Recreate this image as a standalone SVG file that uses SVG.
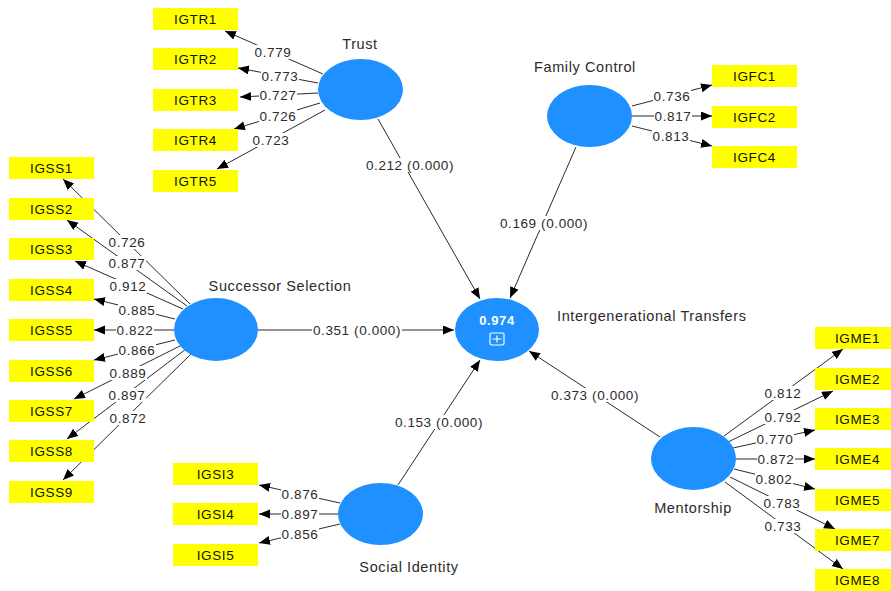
<svg xmlns="http://www.w3.org/2000/svg" width="891" height="591" viewBox="0 0 891 591">
<style>
text{font-family:"Liberation Sans",Arial,sans-serif;font-size:13.5px;letter-spacing:0.6px;fill:#2b2b2b}
.c{fill:#1E90FF}
.b{fill:#FFFF00}
.bt{text-anchor:middle;fill:#111}
.nl{text-anchor:middle;font-size:14.5px}
.nls{font-size:14.5px}
.e{stroke:#2b2b2b;stroke-width:1;fill:none;marker-end:url(#ah)}
.lb{fill:#fff}
.lt{text-anchor:middle}
.r2{fill:#fff;font-weight:bold;text-anchor:middle;font-size:13px}
</style>
<defs>
<marker id="ah" markerUnits="userSpaceOnUse" markerWidth="12" markerHeight="10" refX="11" refY="4.5" orient="auto">
<path d="M0,0 L11,4.5 L0,9 Z" fill="#000"/>
</marker>
</defs>
<rect width="891" height="591" fill="#fff"/>

<g id="connectors">
<!-- Trust indicators -->
<line class="e" x1="323" y1="74" x2="225" y2="31"/>
<line class="e" x1="318" y1="83" x2="238" y2="68"/>
<line class="e" x1="318" y1="93" x2="240" y2="97"/>
<line class="e" x1="320" y1="103" x2="234" y2="129"/>
<line class="e" x1="325" y1="110" x2="217" y2="169"/>
<!-- Family Control indicators -->
<line class="e" x1="632" y1="106" x2="712" y2="85"/>
<line class="e" x1="632" y1="116" x2="712" y2="116"/>
<line class="e" x1="632" y1="126" x2="712" y2="146"/>
<!-- Successor Selection indicators -->
<line class="e" x1="190" y1="304" x2="63" y2="179"/>
<line class="e" x1="187" y1="306" x2="67" y2="220"/>
<line class="e" x1="183" y1="309" x2="75" y2="261"/>
<line class="e" x1="175" y1="319" x2="94" y2="299"/>
<line class="e" x1="174" y1="330" x2="94" y2="330"/>
<line class="e" x1="175" y1="340" x2="94" y2="360"/>
<line class="e" x1="182" y1="345" x2="74" y2="399"/>
<line class="e" x1="186" y1="349" x2="67" y2="439"/>
<line class="e" x1="191" y1="354" x2="63" y2="480"/>
<!-- Social Identity indicators -->
<line class="e" x1="340" y1="503" x2="259" y2="485"/>
<line class="e" x1="340" y1="514" x2="259" y2="514"/>
<line class="e" x1="340" y1="524" x2="259" y2="543"/>
<!-- Mentorship indicators -->
<line class="e" x1="724" y1="436" x2="843" y2="349"/>
<line class="e" x1="728" y1="442" x2="833" y2="391"/>
<line class="e" x1="733" y1="448" x2="815" y2="430"/>
<line class="e" x1="735" y1="459" x2="815" y2="459"/>
<line class="e" x1="734" y1="469" x2="815" y2="489"/>
<line class="e" x1="730" y1="477" x2="835" y2="529"/>
<line class="e" x1="725" y1="482" x2="843" y2="569"/>
<!-- Structural paths -->
<line class="e" x1="378" y1="119" x2="480" y2="299"/>
<line class="e" x1="576" y1="147" x2="510" y2="298"/>
<line class="e" x1="258" y1="330" x2="454" y2="330"/>
<line class="e" x1="398" y1="485" x2="480" y2="360"/>
<line class="e" x1="660" y1="437" x2="529" y2="351"/>

<!-- labels -->
<g>
<rect class="lb" x="254" y="45" width="38" height="14"/><text class="lt" x="273" y="57">0.779</text>
<rect class="lb" x="261" y="69" width="38" height="14"/><text class="lt" x="280" y="81">0.773</text>
<rect class="lb" x="259" y="88" width="38" height="14"/><text class="lt" x="278" y="100">0.727</text>
<rect class="lb" x="259" y="109" width="38" height="14"/><text class="lt" x="278" y="121">0.726</text>
<rect class="lb" x="252" y="133" width="38" height="14"/><text class="lt" x="271" y="145">0.723</text>

<rect class="lb" x="653" y="89" width="38" height="14"/><text class="lt" x="672" y="101">0.736</text>
<rect class="lb" x="654" y="109" width="38" height="14"/><text class="lt" x="673" y="121">0.817</text>
<rect class="lb" x="652" y="129" width="38" height="14"/><text class="lt" x="671" y="141">0.813</text>

<rect class="lb" x="108" y="235" width="38" height="14"/><text class="lt" x="127" y="247">0.726</text>
<rect class="lb" x="108" y="256" width="38" height="14"/><text class="lt" x="127" y="268">0.877</text>
<rect class="lb" x="109" y="279" width="38" height="14"/><text class="lt" x="128" y="291">0.912</text>
<rect class="lb" x="118" y="303" width="38" height="14"/><text class="lt" x="137" y="315">0.885</text>
<rect class="lb" x="116" y="323" width="38" height="14"/><text class="lt" x="135" y="335">0.822</text>
<rect class="lb" x="118" y="343" width="38" height="14"/><text class="lt" x="137" y="355">0.866</text>
<rect class="lb" x="109" y="366" width="38" height="14"/><text class="lt" x="128" y="378">0.889</text>
<rect class="lb" x="108" y="388" width="38" height="14"/><text class="lt" x="127" y="400">0.897</text>
<rect class="lb" x="109" y="411" width="38" height="14"/><text class="lt" x="128" y="423">0.872</text>

<rect class="lb" x="281" y="487" width="38" height="14"/><text class="lt" x="300" y="499">0.876</text>
<rect class="lb" x="281" y="507" width="38" height="14"/><text class="lt" x="300" y="519">0.897</text>
<rect class="lb" x="281" y="527" width="38" height="14"/><text class="lt" x="300" y="539">0.856</text>

<rect class="lb" x="764" y="386" width="38" height="14"/><text class="lt" x="783" y="398">0.812</text>
<rect class="lb" x="764" y="410" width="38" height="14"/><text class="lt" x="783" y="422">0.792</text>
<rect class="lb" x="756" y="432" width="38" height="14"/><text class="lt" x="775" y="444">0.770</text>
<rect class="lb" x="757" y="452" width="38" height="14"/><text class="lt" x="776" y="464">0.872</text>
<rect class="lb" x="755" y="472" width="38" height="14"/><text class="lt" x="774" y="484">0.802</text>
<rect class="lb" x="763" y="496" width="38" height="14"/><text class="lt" x="782" y="508">0.783</text>
<rect class="lb" x="764" y="519" width="38" height="14"/><text class="lt" x="783" y="531">0.733</text>

<rect class="lb" x="365" y="158" width="90" height="14"/><text class="lt" x="410" y="170">0.212 (0.000)</text>
<rect class="lb" x="499" y="216" width="90" height="14"/><text class="lt" x="544" y="228">0.169 (0.000)</text>
<rect class="lb" x="312" y="323" width="90" height="14"/><text class="lt" x="357" y="335">0.351 (0.000)</text>
<rect class="lb" x="394" y="415" width="90" height="14"/><text class="lt" x="439" y="427">0.153 (0.000)</text>
<rect class="lb" x="550" y="388" width="90" height="14"/><text class="lt" x="595" y="400">0.373 (0.000)</text>
</g>
</g>

<g id="trust"><ellipse class="c" cx="360.5" cy="89.5" rx="42.5" ry="30.5"/><text class="nl" x="360" y="49">Trust</text></g>
<g id="family-control"><ellipse class="c" cx="589.5" cy="116" rx="42.5" ry="31"/><text class="nl" x="585" y="72">Family Control</text></g>
<g id="successor-selection"><ellipse class="c" cx="216" cy="329.5" rx="42" ry="31.5"/><text class="nl" x="280" y="291">Successor Selection</text></g>
<g id="social-identity"><ellipse class="c" cx="380.5" cy="514" rx="42.5" ry="31"/><text class="nl" x="409" y="572">Social Identity</text></g>
<g id="mentorship"><ellipse class="c" cx="693.5" cy="458.5" rx="42.5" ry="31.5"/><text class="nl" x="693" y="513">Mentorship</text></g>
<g id="intergenerational-transfers">
<ellipse class="c" cx="497" cy="329.5" rx="42" ry="31.5"/>
<text class="r2" x="497" y="325">0.974</text>
<rect x="490" y="333" width="14" height="12" rx="1.5" fill="none" stroke="#fff" stroke-width="1.2"/>
<path d="M497,335.5 V342.5 M492.5,339 H501.5" stroke="#fff" stroke-width="1.2"/>
<text class="nls" x="557" y="321">Intergenerational Transfers</text>
</g>

<g id="IGTR1"><rect class="b" x="153" y="8" width="85" height="22"/><text class="bt" x="195.5" y="24">IGTR1</text></g>
<g id="IGTR2"><rect class="b" x="153" y="48" width="85" height="22"/><text class="bt" x="195.5" y="64">IGTR2</text></g>
<g id="IGTR3"><rect class="b" x="153" y="89" width="85" height="22"/><text class="bt" x="195.5" y="105">IGTR3</text></g>
<g id="IGTR4"><rect class="b" x="153" y="129" width="85" height="22"/><text class="bt" x="195.5" y="145">IGTR4</text></g>
<g id="IGTR5"><rect class="b" x="153" y="170" width="85" height="22"/><text class="bt" x="195.5" y="186">IGTR5</text></g>

<g id="IGFC1"><rect class="b" x="712" y="65" width="85" height="22"/><text class="bt" x="754.5" y="81">IGFC1</text></g>
<g id="IGFC2"><rect class="b" x="712" y="106" width="85" height="22"/><text class="bt" x="754.5" y="122">IGFC2</text></g>
<g id="IGFC4"><rect class="b" x="712" y="146" width="85" height="22"/><text class="bt" x="754.5" y="162">IGFC4</text></g>

<g id="IGSS1"><rect class="b" x="9" y="157" width="85" height="22"/><text class="bt" x="51.5" y="173">IGSS1</text></g>
<g id="IGSS2"><rect class="b" x="9" y="198" width="85" height="22"/><text class="bt" x="51.5" y="214">IGSS2</text></g>
<g id="IGSS3"><rect class="b" x="9" y="238" width="85" height="22"/><text class="bt" x="51.5" y="254">IGSS3</text></g>
<g id="IGSS4"><rect class="b" x="9" y="279" width="85" height="22"/><text class="bt" x="51.5" y="295">IGSS4</text></g>
<g id="IGSS5"><rect class="b" x="9" y="319" width="85" height="22"/><text class="bt" x="51.5" y="335">IGSS5</text></g>
<g id="IGSS6"><rect class="b" x="9" y="360" width="85" height="22"/><text class="bt" x="51.5" y="376">IGSS6</text></g>
<g id="IGSS7"><rect class="b" x="9" y="400" width="85" height="22"/><text class="bt" x="51.5" y="416">IGSS7</text></g>
<g id="IGSS8"><rect class="b" x="9" y="440" width="85" height="22"/><text class="bt" x="51.5" y="456">IGSS8</text></g>
<g id="IGSS9"><rect class="b" x="9" y="481" width="85" height="22"/><text class="bt" x="51.5" y="497">IGSS9</text></g>

<g id="IGSI3"><rect class="b" x="173" y="463" width="85" height="22"/><text class="bt" x="215.5" y="479">IGSI3</text></g>
<g id="IGSI4"><rect class="b" x="173" y="503" width="85" height="22"/><text class="bt" x="215.5" y="519">IGSI4</text></g>
<g id="IGSI5"><rect class="b" x="173" y="544" width="85" height="22"/><text class="bt" x="215.5" y="560">IGSI5</text></g>

<g id="IGME1"><rect class="b" x="815" y="327" width="85" height="22"/><text class="bt" x="857.5" y="343">IGME1</text></g>
<g id="IGME2"><rect class="b" x="815" y="368" width="85" height="22"/><text class="bt" x="857.5" y="384">IGME2</text></g>
<g id="IGME3"><rect class="b" x="815" y="408" width="85" height="22"/><text class="bt" x="857.5" y="424">IGME3</text></g>
<g id="IGME4"><rect class="b" x="815" y="448" width="85" height="22"/><text class="bt" x="857.5" y="464">IGME4</text></g>
<g id="IGME5"><rect class="b" x="815" y="489" width="85" height="22"/><text class="bt" x="857.5" y="505">IGME5</text></g>
<g id="IGME7"><rect class="b" x="815" y="529" width="85" height="22"/><text class="bt" x="857.5" y="545">IGME7</text></g>
<g id="IGME8"><rect class="b" x="815" y="569" width="85" height="22"/><text class="bt" x="857.5" y="585">IGME8</text></g>
</svg>
